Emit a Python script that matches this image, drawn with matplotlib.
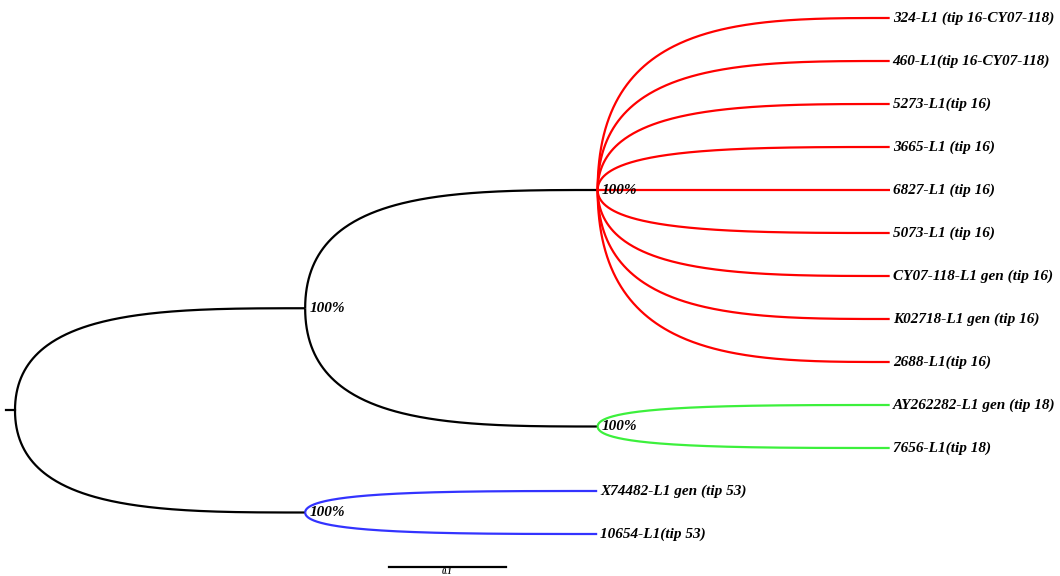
import numpy as np
from matplotlib import pyplot as plt

# tree: node -> (parent, branch length)
nodes = ["root", "A", "red", "green", "blue",
         "324", "460", "5273", "3665", "6827", "5073", "CY07", "K02718", "2688",
         "AY262282", "7656", "X74482", "10654"]
parents = [None, "root", "A", "A", "root",
           "red", "red", "red", "red", "red", "red", "red", "red", "red",
           "green", "green", "blue", "blue"]
branch_len = [0.0, 0.248, 0.250, 0.250, 0.248,
              0.2496, 0.2496, 0.2496, 0.2496, 0.2496, 0.2496, 0.2496, 0.2496, 0.2496,
              0.2496, 0.2496, 0.2496, 0.2496]
tip_labels = {
    "324": "324-L1 (tip 16-CY07-118)",
    "460": "460-L1(tip 16-CY07-118)",
    "5273": "5273-L1(tip 16)",
    "3665": "3665-L1 (tip 16)",
    "6827": "6827-L1 (tip 16)",
    "5073": "5073-L1 (tip 16)",
    "CY07": "CY07-118-L1 gen (tip 16)",
    "K02718": "K02718-L1 gen (tip 16)",
    "2688": "2688-L1(tip 16)",
    "AY262282": "AY262282-L1 gen (tip 18)",
    "7656": "7656-L1(tip 18)",
    "X74482": "X74482-L1 gen (tip 53)",
    "10654": "10654-L1(tip 53)",
}
support = {"A": "100%", "red": "100%", "green": "100%", "blue": "100%"}
clade_color = {"red": "#ff0000", "green": "#3cf03c", "blue": "#3333ff"}
scale_len = 0.1
scale_label = "0.1"

# layout
par = dict(zip(nodes, parents))
bl = dict(zip(nodes, branch_len))
children = {n: [c for c in nodes if par[c] == n] for n in nodes}
xpos = {}
for n in nodes:
    xpos[n] = bl[n] + (xpos[par[n]] if par[n] else 0.0)
tips = [n for n in nodes if not children[n]]
ypos = {t: i for i, t in enumerate(tips)}
def set_y(n):
    if n not in ypos:
        ypos[n] = np.mean([set_y(c) for c in children[n]])
    return ypos[n]
set_y("root")

def color_of(n):
    while n is not None:
        if n in clade_color:
            return clade_color[n]
        n = par[n]
    return "black"

fig = plt.figure(figsize=(10.6, 5.76), dpi=100)
ax = fig.add_axes([0, 0, 1, 1])
ax.set_xlim(-15 / 1170, 1045 / 1170)
ax.set_ylim(558 / 43, -18 / 43)
ax.axis("off")

# curved branches (cubic bezier, vertical at parent, flat at child)
t = np.linspace(0, 1, 200)
c = 0.5
for n in nodes:
    p = par[n]
    if p is None:
        continue
    u = 3 * (1 - t) * t**2 * c + t**3
    v = 1 - (1 - t)**3
    xs = xpos[p] + (xpos[n] - xpos[p]) * u
    ys = ypos[p] + (ypos[n] - ypos[p]) * v
    col = color_of(n) if n not in clade_color else "black"
    ax.plot(xs, ys, color=col, lw=1.6, solid_capstyle="butt")

# root stub
ax.plot([xpos["root"] - 9 / 1170, xpos["root"]], [ypos["root"]] * 2, color="black", lw=1.6)

font = dict(family="Liberation Serif", style="italic", weight="bold", fontsize=11)
for tp in tips:
    ax.text(xpos[tp] + 3 / 1170, ypos[tp], tip_labels[tp], va="center", ha="left", **font)
for n, s in support.items():
    ax.text(xpos[n] + 4 / 1170, ypos[n], s, va="center", ha="left", **font)

# scale bar
sb_x0 = 374 / 1170
sb_y = (567 - 18) / 43
ax.plot([sb_x0, sb_x0 + scale_len], [sb_y, sb_y], color="black", lw=1.6)
ax.text(sb_x0 + scale_len / 2, 558 / 43, scale_label, ha="center", va="bottom",
        family="Liberation Serif", style="italic", weight="bold", fontsize=6)

fig.savefig("out.png", dpi=100)
